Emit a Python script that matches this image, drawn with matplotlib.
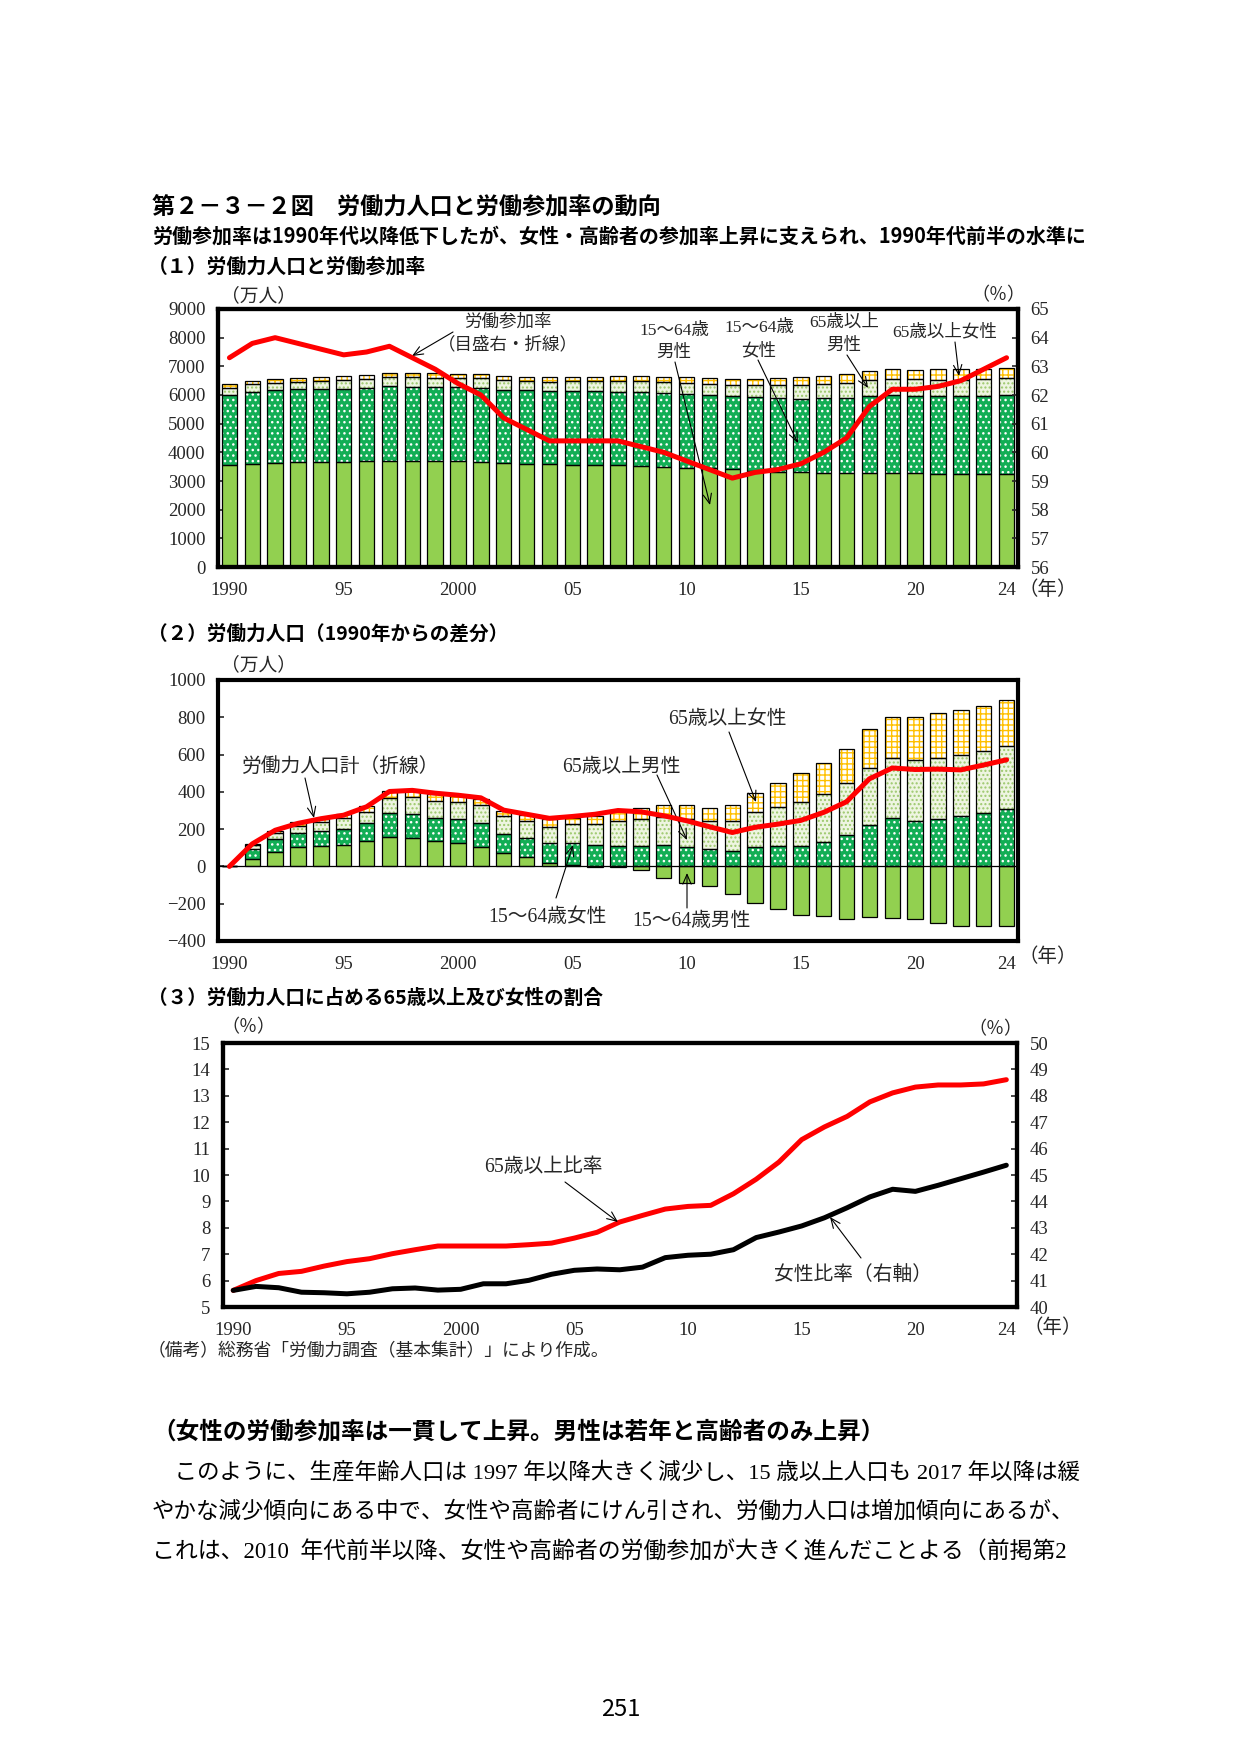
import numpy as np
import matplotlib
matplotlib.use('Agg')
import matplotlib.pyplot as plt

plt.rcParams['font.family'] = ['Liberation Serif', 'Noto Sans CJK JP']
plt.rcParams['hatch.linewidth'] = 1.0
plt.rcParams['axes.unicode_minus'] = True

#*********************************** DATA **************************************
years = list(range(1990, 2025))
xtick_pos = [0, 5, 10, 15, 20, 25, 30, 34]
xtick_labels = ['1990', '95', '2000', '05', '10', '15', '20', '24']

# (1) labour force by group (万人) and participation rate (%)
male_15_64 = [3555, 3596, 3630, 3657, 3662, 3668, 3689, 3711, 3705, 3694,
              3683, 3660, 3629, 3606, 3576, 3560, 3553, 3551, 3535, 3491,
              3468, 3449, 3405, 3361, 3329, 3297, 3290, 3275, 3284, 3281,
              3271, 3254, 3238, 3238, 3233]
female_15_64 = [2460, 2510, 2530, 2535, 2541, 2546, 2560, 2588, 2589, 2583,
                2584, 2590, 2562, 2564, 2567, 2578, 2574, 2570, 2571, 2573,
                2565, 2555, 2545, 2566, 2570, 2567, 2593, 2626, 2680, 2718,
                2705, 2712, 2728, 2744, 2766]
male_65 = [240, 262, 272, 278, 292, 302, 299, 325, 331, 331,
           331, 333, 333, 331, 324, 343, 356, 376, 381, 390,
           389, 388, 401, 424, 447, 476, 494, 519, 546, 562,
           566, 568, 568, 575, 578]
female_65 = [115, 122, 129, 136, 129, 133, 144, 148, 151, 149,
             149, 151, 144, 144, 156, 151, 156, 169, 179, 183,
             193, 188, 201, 221, 247, 271, 281, 298, 324, 335,
             344, 356, 356, 355, 362]
participation = [63.3, 63.8, 64.0, 63.8, 63.6, 63.4, 63.5, 63.7, 63.3, 62.9,
                 62.4, 62.0, 61.2, 60.8, 60.4, 60.4, 60.4, 60.4, 60.2, 60.0,
                 59.7, 59.4, 59.1, 59.3, 59.4, 59.6, 60.0, 60.5, 61.6, 62.2,
                 62.2, 62.3, 62.5, 62.9, 63.3]

# (2) change from 1990 (万人)
d_male_15_64 = [0, 41, 75, 102, 107, 113, 134, 156, 150, 139,
                128, 105, 74, 51, 21, 5, -2, -4, -20, -64,
                -87, -106, -150, -194, -226, -258, -265, -280, -271, -274,
                -284, -301, -317, -317, -322]
d_female_15_64 = [0, 50, 70, 75, 81, 86, 100, 128, 129, 123,
                  124, 130, 102, 104, 107, 118, 114, 110, 111, 113,
                  105, 95, 85, 106, 110, 107, 133, 166, 220, 258,
                  245, 252, 268, 284, 306]
d_male_65 = [0, 22, 32, 38, 52, 62, 59, 85, 91, 91,
             91, 93, 93, 91, 84, 103, 116, 136, 141, 150,
             149, 148, 161, 184, 207, 236, 254, 279, 306, 322,
             326, 328, 328, 335, 338]
d_female_65 = [0, 7, 14, 21, 14, 18, 29, 33, 36, 34,
               34, 36, 29, 29, 41, 36, 41, 54, 64, 68,
               78, 73, 86, 106, 132, 156, 166, 183, 209, 220,
               229, 241, 241, 240, 247]
d_total = [0, 121, 194, 231, 256, 275, 320, 402, 408, 393,
           382, 368, 302, 280, 258, 268, 280, 300, 293, 272,
           245, 213, 182, 210, 227, 247, 290, 347, 470, 528,
           520, 522, 518, 544, 572]

# (3) shares (%)
share_65 = [5.63, 6.0, 6.27, 6.35, 6.55, 6.72, 6.83, 7.02, 7.17, 7.31,
            7.31, 7.31, 7.31, 7.36, 7.42, 7.61, 7.83, 8.22, 8.47, 8.71,
            8.81, 8.85, 9.29, 9.84, 10.49, 11.34, 11.82, 12.22, 12.77, 13.11,
            13.33, 13.41, 13.41, 13.45, 13.61]
share_female = [40.63, 40.78, 40.73, 40.56, 40.54, 40.5, 40.56, 40.69, 40.72, 40.64,
                40.67, 40.88, 40.88, 41.01, 41.24, 41.39, 41.44, 41.41, 41.51, 41.87,
                41.96, 42.0, 42.17, 42.63, 42.84, 43.07, 43.38, 43.76, 44.17, 44.46,
                44.38, 44.61, 44.86, 45.11, 45.37]

#*********************************** STYLE *************************************
W, H = 1241, 1755
BAR_W = 0.68
GREEN = '#92D050'
DGREEN = '#12AE55'
LGREEN = '#EEF5E1'
LDOT = '#9CC86C'
YELLOW = '#FFC000'
RED = '#FF0000'
TXT = '#262626'
SANS = ['Noto Sans CJK JP']
MIX = ['Liberation Serif', 'Noto Sans CJK JP']
TICK_FS = 13.5
NOTE1_FS = 12.6
NOTE_FS = 14.2

#*********************************** HELPERS ***********************************
def add_axes_px(fig, left, top, right, bottom):
    return fig.add_axes([left / W, 1 - bottom / H, (right - left) / W, (bottom - top) / H])

def put(fig, x, y, s, size=12, ha='center', family=MIX, weight='normal', color=TXT):
    fig.text(x / W, 1 - y / H, s, ha=ha, va='center', fontsize=size,
             family=family, weight=weight, color=color)

def arrow(ax, x0, y0, x1, y1):
    ax.annotate('', xy=(x1, H - y1), xytext=(x0, H - y0),
                xycoords='figure pixels', textcoords='figure pixels',
                arrowprops=dict(arrowstyle='->,head_length=0.7,head_width=0.3',
                                lw=0.8, color='black', shrinkA=0, shrinkB=0))

def layer(ax, x, h, bottom, face, hatch=None, hcolor=None):
    if hatch:
        ax.bar(x, h, BAR_W, bottom=bottom, color=face, edgecolor=hcolor,
               hatch=hatch, linewidth=0, zorder=2)
    else:
        ax.bar(x, h, BAR_W, bottom=bottom, color=face, linewidth=0, zorder=2)
    ax.bar(x, h, BAR_W, bottom=bottom, fill=False, edgecolor='black',
           linewidth=0.9, zorder=3)

def stacked(ax, m, f, om, of):
    x = np.arange(len(m))
    m, f, om, of = map(np.array, (m, f, om, of))
    base = np.where(m > 0, m, 0)
    layer(ax, x, m, 0, GREEN)
    layer(ax, x, f, base, DGREEN, '...', 'white')
    layer(ax, x, om, base + f, LGREEN, '....', LDOT)
    layer(ax, x, of, base + f + om, 'white', '+++', YELLOW)

def frame(ax, ylim, yticks, side='left'):
    ax.set_ylim(*ylim)
    ax.set_yticks(yticks)
    ax.tick_params(axis='y', direction='in', length=4, width=1.2, pad=9,
                   labelsize=TICK_FS, colors=TXT)
    if side == 'right':
        ax.yaxis.tick_right()
    for s in ax.spines.values():
        s.set_linewidth(3)

def xaxis(ax, xlim):
    ax.set_xlim(*xlim)
    ax.set_xticks(xtick_pos, xtick_labels)
    ax.tick_params(axis='x', length=0, pad=11, labelsize=TICK_FS, colors=TXT)

#************************************ MAIN *************************************
fig = plt.figure(figsize=(W / 100, H / 100), dpi=100)
x = np.arange(len(years))

# headings
put(fig, 152, 208, '第２－３－２図　労働力人口と労働参加率の動向', 16.7, 'left', SANS, 'bold', 'black')
put(fig, 152, 236, '労働参加率は1990年代以降低下したが、女性・高齢者の参加率上昇に支えられ、1990年代前半の水準に',
    14.4, 'left', SANS, 'bold', 'black')
put(fig, 148, 266, '（１）労働力人口と労働参加率', 14.3, 'left', SANS, 'bold', 'black')
put(fig, 148, 634, '（２）労働力人口（1990年からの差分）', 14.1, 'left', SANS, 'bold', 'black')
put(fig, 148, 998, '（３）労働力人口に占める65歳以上及び女性の割合', 14.1, 'left', SANS, 'bold', 'black')

# ---- (1) levels + participation rate
ax1 = add_axes_px(fig, 218, 309, 1018, 567)
stacked(ax1, male_15_64, female_15_64, male_65, female_65)
frame(ax1, (0, 9000), range(0, 9001, 1000))
xaxis(ax1, (-0.5, 34.5))
ax1r = ax1.twinx()
ax1r.plot(x, participation, color=RED, lw=3.6, solid_capstyle='round', zorder=5)
frame(ax1r, (56, 65), range(56, 66), 'right')
ax1r.set_xlim(-0.5, 34.5)

put(fig, 259, 296, '（万人）', 13.5)
put(fig, 998, 296, '（％）', 13)
put(fig, 1048, 590, '（年）', 14)
put(fig, 508, 322, '労働参加率', NOTE1_FS)
put(fig, 508, 345, '（目盛右・折線）', NOTE1_FS)
arrow(ax1r, 453, 332, 412, 356)
put(fig, 674, 331, '15〜64歳', NOTE1_FS)
put(fig, 674, 353, '男性', NOTE1_FS)
arrow(ax1r, 675, 362, 710, 505)
put(fig, 759, 328, '15〜64歳', NOTE1_FS)
put(fig, 759, 351, '女性', NOTE1_FS)
arrow(ax1r, 758, 360, 798, 443)
put(fig, 844, 323, '65歳以上', NOTE1_FS)
put(fig, 844, 346, '男性', NOTE1_FS)
arrow(ax1r, 847, 355, 868, 388)
put(fig, 945, 332, '65歳以上女性', NOTE1_FS)
arrow(ax1r, 955, 342, 959, 376)

# ---- (2) change from 1990
ax2 = add_axes_px(fig, 218, 680, 1018, 941)
stacked(ax2, d_male_15_64, d_female_15_64, d_male_65, d_female_65)
ax2.axhline(0, color='black', lw=0.9, zorder=4)
ax2.plot(x, d_total, color=RED, lw=3.6, solid_capstyle='round', zorder=5)
frame(ax2, (-400, 1000), range(-400, 1001, 200))
xaxis(ax2, (-0.5, 34.5))

put(fig, 259, 665, '（万人）', 13.5)
put(fig, 1048, 957, '（年）', 14)
put(fig, 341, 767, '労働力人口計（折線）', NOTE_FS)
arrow(ax2, 305, 778, 314, 818)
put(fig, 621, 767, '65歳以上男性', NOTE_FS)
arrow(ax2, 657, 775, 687, 840)
put(fig, 727, 720, '65歳以上女性', NOTE_FS)
arrow(ax2, 729, 732, 756, 802)
put(fig, 547, 918, '15〜64歳女性', NOTE_FS)
arrow(ax2, 556, 898, 573, 845)
put(fig, 691, 922, '15〜64歳男性', NOTE_FS)
arrow(ax2, 687, 908, 687, 873)

# ---- (3) shares
ax3 = add_axes_px(fig, 223, 1043, 1017, 1307)
ax3.plot(x, share_65, color=RED, lw=3.6, solid_capstyle='round', zorder=5)
frame(ax3, (5, 15), range(5, 16))
xaxis(ax3, (-0.45, 34.47))
ax3r = ax3.twinx()
ax3r.plot(x, share_female, color='black', lw=3.6, solid_capstyle='round', zorder=5)
frame(ax3r, (40, 50), range(40, 51), 'right')
ax3r.set_xlim(-0.45, 34.47)

put(fig, 248, 1028, '（％）', 13)
put(fig, 995, 1030, '（％）', 13)
put(fig, 1053, 1328, '（年）', 14)
put(fig, 543, 1167, '65歳以上比率', NOTE_FS)
arrow(ax3r, 565, 1182, 618, 1222)
put(fig, 853, 1275, '女性比率（右軸）', NOTE_FS)
arrow(ax3r, 861, 1258, 830, 1217)
put(fig, 148, 1352, '（備考）総務省「労働力調査（基本集計）」により作成。', 12.8, 'left')

# ---- body text
put(fig, 152, 1432, '（女性の労働参加率は一貫して上昇。男性は若年と高齢者のみ上昇）',
    17, 'left', SANS, 'bold', 'black')
put(fig, 152, 1473, '　このように、生産年齢人口は 1997 年以降大きく減少し、15 歳以上人口も 2017 年以降は緩',
    16.2, 'left', MIX, 'normal', 'black')
put(fig, 152, 1512, 'やかな減少傾向にある中で、女性や高齢者にけん引され、労働力人口は増加傾向にあるが、',
    16.2, 'left', MIX, 'normal', 'black')
put(fig, 152, 1553, 'これは、2010  年代前半以降、女性や高齢者の労働参加が大きく進んだことよる（前掲第2',
    16.5, 'left', MIX, 'normal', 'black')
put(fig, 621, 1709, '251', 17, 'center', SANS, 'normal', 'black')

fig.savefig('out.png', dpi=100)
